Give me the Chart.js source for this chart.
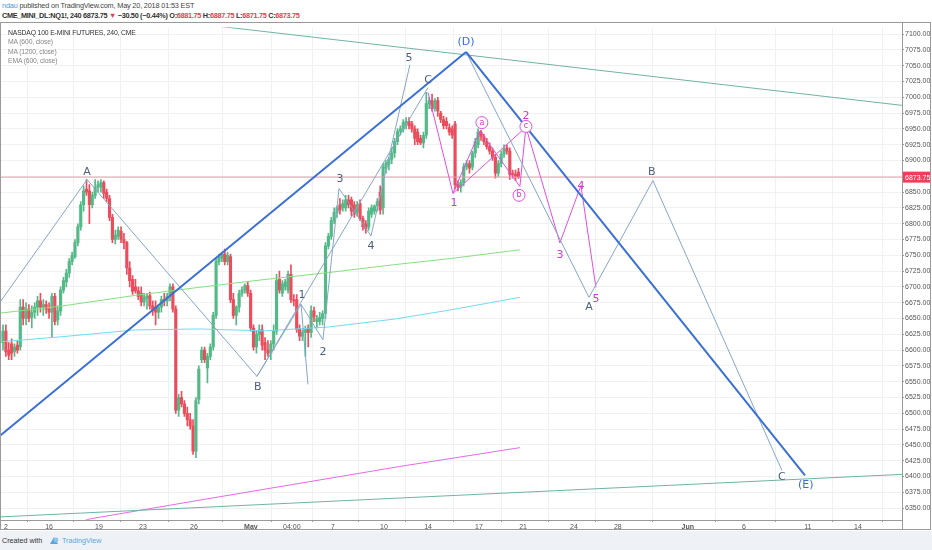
<!DOCTYPE html>
<html>
<head>
<meta charset="utf-8">
<script src="https://cdn.jsdelivr.net/npm/chart.js@4.4.1/dist/chart.umd.min.js"></script>
<style>
  body { margin: 0; width: 932px; height: 550px; background: #fff; position: relative; overflow: hidden;
         font-family: "Liberation Sans", Arial, sans-serif; }
  #h1 { position: absolute; left: 2px; top: 1px; font-size: 7.3px; letter-spacing: -0.17px; color: #444; white-space: nowrap; }
  #h1 .user { color: #4a9ad8; }
  #h2 { position: absolute; left: 2px; top: 11px; font-size: 7.3px; letter-spacing: -0.3px; color: #333; font-weight: bold; white-space: nowrap; }
  #h2 .r { color: #e2424f; }
  #wrap { position: absolute; left: 0; top: 22px; width: 932px; height: 508px; }
  #legend { position: absolute; left: 8px; top: 28px; font-size: 6.8px; letter-spacing: -0.15px; line-height: 9.3px; color: #888; white-space: nowrap; }
  #legend .t { color: #333; }
  #foot { position: absolute; left: 0; top: 531px; width: 932px; height: 19px; background: #eef2f6; }
  #foot .c { position: absolute; left: 2px; top: 5px; font-size: 7.2px; color: #333; }
  #foot .tv { position: absolute; left: 62px; top: 5px; font-size: 7.2px; color: #5aa6dc; }
  #foot svg { position: absolute; left: 48px; top: 4px; }
</style>
</head>
<body>
<div id="h1"><span class="user">ndau</span> published on TradingView.com, May 20, 2018 01:53 EST</div>
<div id="h2">CME_MINI_DL:NQ1!, 240 6873.75 <span class="r">▼</span> −30.50 (−0.44%) O:<span class="r">6881.75</span> H:<span class="r">6887.75</span> L:<span class="r">6871.75</span> C:<span class="r">6873.75</span></div>
<div id="wrap"><canvas id="chart"></canvas></div>
<div id="legend">
  <div class="t">NASDAQ 100 E-MINI FUTURES, 240, CME</div>
  <div>MA (600, close)</div>
  <div>MA (1200, close)</div>
  <div>EMA (600, close)</div>
</div>
<div id="foot">
  <span class="c">Created with</span>
  <svg width="12" height="10" viewBox="0 0 12 10"><path d="M2 9 L6 2 L10 9 Z" fill="#5aa6dc"/><circle cx="8" cy="5" r="2.4" fill="#8cc4ea"/></svg>
  <span class="tv">TradingView</span>
</div>

<script>
// 240 min candles, one entry per bar (bar 0 = left edge)
const candleOpen = [
  6612, 6630, 6600, 6610, 6598, 6608, 6605, 6668, 6650, 6665,
  6652, 6660, 6668, 6678, 6668, 6672, 6665, 6660, 6685, 6648,
  6662, 6695, 6708, 6722, 6740, 6748, 6770, 6795, 6830, 6855,
  6852, 6830, 6845, 6858, 6858, 6865, 6850, 6840, 6810, 6775,
  6780, 6788, 6775, 6770, 6730, 6712, 6700, 6694, 6690, 6676,
  6682, 6686, 6670, 6668, 6660, 6668, 6680, 6678, 6685, 6700,
  6665, 6505, 6525, 6515, 6500, 6490, 6480, 6440, 6522, 6585,
  6600, 6572, 6590, 6605, 6655, 6740, 6745, 6752, 6740, 6748,
  6680, 6655, 6668, 6690, 6695, 6702, 6690, 6635, 6605, 6625,
  6632, 6612, 6600, 6595, 6610, 6630, 6712, 6690, 6700, 6695,
  6720, 6680, 6680, 6633, 6622, 6628, 6635, 6628, 6662, 6645,
  6645, 6650, 6658, 6765, 6780, 6805, 6818, 6830, 6825, 6825,
  6838, 6838, 6830, 6818, 6832, 6808, 6800, 6795, 6815, 6820,
  6828, 6850, 6825, 6888, 6894, 6902, 6912, 6930, 6946, 6950,
  6958, 6962, 6958, 6950, 6945, 6935, 6928, 6940, 6990, 6995,
  6982, 6995, 6975, 6965, 6962, 6952, 6950, 6958, 6862, 6858,
  6865, 6890, 6895, 6890, 6912, 6925, 6945, 6938, 6930, 6922,
  6915, 6905, 6880, 6895, 6910, 6920, 6915, 6880, 6878, 6881.75
];
const candleHigh = [
  6640, 6640, 6612, 6618, 6610, 6615, 6680, 6680, 6675, 6672,
  6670, 6675, 6685, 6690, 6680, 6678, 6675, 6690, 6690, 6670,
  6700, 6715, 6728, 6745, 6755, 6775, 6800, 6835, 6860, 6870,
  6862, 6850, 6870, 6868, 6870, 6868, 6855, 6845, 6815, 6790,
  6795, 6795, 6785, 6772, 6740, 6718, 6712, 6700, 6700, 6690,
  6690, 6692, 6678, 6678, 6672, 6685, 6690, 6690, 6705, 6705,
  6670, 6530, 6535, 6520, 6510, 6500, 6490, 6525, 6575, 6605,
  6605, 6595, 6610, 6660, 6745, 6752, 6755, 6760, 6755, 6752,
  6690, 6670, 6695, 6700, 6705, 6708, 6695, 6640, 6630, 6640,
  6640, 6620, 6615, 6615, 6640, 6720, 6725, 6710, 6712, 6725,
  6735, 6688, 6688, 6640, 6632, 6638, 6640, 6670, 6668, 6655,
  6660, 6662, 6770, 6785, 6810, 6825, 6828, 6840, 6838, 6845,
  6845, 6842, 6835, 6835, 6838, 6812, 6805, 6825, 6830, 6830,
  6840, 6860, 6895, 6900, 6905, 6920, 6935, 6950, 6955, 6965,
  6968, 6968, 6962, 6955, 6950, 6940, 6945, 7008, 7000, 7005,
  6998, 7000, 6978, 6970, 6968, 6958, 6955, 6962, 6868, 6870,
  6895, 6900, 6900, 6915, 6935, 6950, 6948, 6942, 6935, 6928,
  6920, 6910, 6900, 6915, 6925, 6925, 6920, 6885, 6885, 6887.75
];
const candleLow = [
  6600, 6590, 6585, 6585, 6590, 6595, 6600, 6640, 6640, 6645,
  6635, 6650, 6655, 6660, 6655, 6658, 6650, 6620, 6640, 6640,
  6655, 6690, 6700, 6715, 6735, 6745, 6765, 6790, 6820, 6845,
  6800, 6825, 6840, 6850, 6850, 6840, 6835, 6805, 6770, 6768,
  6775, 6770, 6760, 6720, 6700, 6688, 6690, 6680, 6670, 6670,
  6665, 6665, 6655, 6640, 6650, 6660, 6670, 6670, 6678, 6660,
  6500, 6495, 6510, 6495, 6480, 6475, 6435, 6430, 6515, 6580,
  6580, 6548, 6585, 6600, 6650, 6735, 6740, 6735, 6735, 6675,
  6650, 6640, 6660, 6685, 6690, 6685, 6630, 6600, 6595, 6615,
  6600, 6585, 6590, 6585, 6600, 6625, 6690, 6685, 6695, 6690,
  6675, 6670, 6628, 6615, 6615, 6590, 6605, 6620, 6645, 6635,
  6640, 6640, 6650, 6760, 6775, 6800, 6810, 6815, 6820, 6820,
  6825, 6812, 6810, 6812, 6805, 6790, 6785, 6790, 6810, 6815,
  6820, 6815, 6815, 6880, 6885, 6895, 6905, 6925, 6940, 6945,
  6950, 6950, 6945, 6925, 6925, 6925, 6920, 6935, 6982, 6978,
  6978, 6970, 6960, 6950, 6950, 6940, 6935, 6855, 6852, 6850,
  6860, 6885, 6880, 6885, 6905, 6920, 6932, 6925, 6918, 6910,
  6900, 6872, 6875, 6890, 6905, 6910, 6870, 6872, 6868, 6871.75
];
const candleClose = [
  6630, 6597, 6592, 6595, 6605, 6600, 6668, 6650, 6665, 6650,
  6660, 6668, 6678, 6668, 6672, 6665, 6660, 6685, 6645, 6662,
  6695, 6710, 6722, 6740, 6750, 6770, 6795, 6830, 6852, 6850,
  6830, 6845, 6858, 6862, 6865, 6848, 6840, 6810, 6775, 6782,
  6790, 6775, 6770, 6730, 6710, 6693, 6694, 6685, 6676, 6684,
  6686, 6670, 6662, 6660, 6668, 6680, 6678, 6685, 6700, 6665,
  6505, 6525, 6515, 6500, 6490, 6480, 6440, 6520, 6570, 6600,
  6585, 6590, 6605, 6655, 6740, 6748, 6752, 6740, 6750, 6680,
  6655, 6668, 6690, 6695, 6702, 6690, 6635, 6605, 6625, 6632,
  6608, 6600, 6595, 6610, 6630, 6710, 6695, 6705, 6708, 6720,
  6680, 6678, 6633, 6622, 6628, 6632, 6628, 6662, 6652, 6650,
  6652, 6658, 6765, 6780, 6805, 6818, 6825, 6822, 6832, 6838,
  6830, 6820, 6815, 6830, 6808, 6795, 6792, 6820, 6825, 6828,
  6835, 6822, 6890, 6896, 6902, 6912, 6930, 6946, 6950, 6960,
  6962, 6955, 6950, 6935, 6930, 6928, 6940, 6990, 6995, 6982,
  6995, 6978, 6965, 6955, 6955, 6945, 6940, 6862, 6858, 6865,
  6890, 6895, 6888, 6912, 6930, 6945, 6938, 6930, 6922, 6915,
  6905, 6880, 6895, 6910, 6918, 6915, 6878, 6878, 6875, 6873.75
];
const lastPrice = 6873.75;

// moving averages, sampled along the bars
const maBars = [-1, 20, 46, 68, 91, 113, 136, 155, 179.5];
const ma600 = [6658.6, 6669.5, 6686.7, 6699.3, 6711.8, 6722.7, 6735.3, 6744.7, 6758.7];
const ma1200 = [6613.2, 6621.0, 6632.0, 6633.5, 6630.5, 6636.6, 6649.2, 6663.3, 6683.6];
const emaBars = [20, 30.2, 68.4, 103.1, 137.8, 179.5];
const ema600 = [6318, 6333, 6362.7, 6389.3, 6415.9, 6445.7];

// axis ticks
const xTickBars = [1, 16, 33.3, 48.6, 66.3, 86.1, 100.3, 114.6, 132.3, 147.6, 165.3, 180.6, 198.3, 213.5, 237.8, 257.3, 279.5, 296.9];
const xTickLabels = ['2', '16', '19', '23', '26', 'May', '04:00', '7', '10', '14', '17', '21', '24', '28', 'Jun', '6', '11', '14'];
const yTicks = [];
for (let v = 6350; v <= 7100; v += 25) yTicks.push(v);

// drawings: trend lines and wave counts
const channelTopBars = [-1.04, 160.8];
const channelTopPrices = [6464.5, 7071.8];
const channelDownBars = [160.8, 278.5];
const channelDownPrices = [7071.8, 6401.8];
const upperTealBars = [-1.04, 312.2];
const upperTealPrices = [7152.6, 6987.3];
const lowerTealBars = [-1.04, 312.2];
const lowerTealPrices = [6336.1, 6403.4];
const waveAbcBars = [-1.04, 29.2, 88.2, 147.6];
const waveAbcPrices = [6675.8, 6869.9, 6558.4, 7015.5];
const waveImpulseBars = [88.2, 103.5, 111.1, 116.7, 127.8, 141.3];
const waveImpulsePrices = [6558.4, 6672.6, 6616.3, 6855.8, 6780.7, 7051.5];
const waveSpikeBars = [103.5, 105.9];
const waveSpikePrices = [6672.6, 6545.8];
const waveProjBars = [160.8, 203.5, 225.7, 270.5];
const waveProjPrices = [7071.8, 6683.6, 6868.3, 6409.7];
const subWaveBars = [147.6, 156.25, 165.6, 179.5, 181.6, 193.4, 200.7, 205.9];
const subWavePrices = [7007.7, 6848, 6946.6, 6859, 6952.9, 6769.7, 6860.5, 6699.3];
const subWaveLinkBars = [156.25, 181.6];
const subWaveLinkPrices = [6848, 6952.9];
const priceLineBars = [-1.04, 312.2];

const labelText = ['A', 'B', 'C', '1', '2', '3', '4', '5', '(D)', 'A', 'B', 'C', '(E)', '1', '2', '3', '4', '5'];
const labelBar = [29.2, 88.5, 147.6, 103.8, 111.1, 117, 127.8, 141, 160.8, 203.5, 225.3, 270.5, 278.8, 156.6, 181.6, 193.4, 200.7, 205.9];
const labelPrice = [6882, 6541, 7028, 6687, 6597, 6870, 6765, 7062, 7088, 6668, 6882, 6399, 6386, 6832, 6970, 6751, 6859, 6680];
const labelKind = ['w', 'w', 'w', 'w', 'w', 'w', 'w', 'w', 'b', 'w', 'w', 'w', 'b', 'm', 'm', 'm', 'm', 'm'];
const circleText = ['a', 'b', 'c'];
const circleBar = [166.3, 179.2, 181.6];
const circlePrice = [6960, 6845, 6954];

const upColor = '#53b987';
const downColor = '#eb4d5c';
const waveColor = '#86a6c8';
const magenta = '#e04fe0';
const royal = '#3a6fd6';
const teal = '#6fb3a4';

function pts(bars, prices) {
  return bars.map((b, i) => ({ x: b, y: prices[i] }));
}
function line(data, color, width, order) {
  return {
    type: 'line', data: data, borderColor: color, borderWidth: width,
    pointRadius: 0, tension: 0, fill: false, order: order
  };
}

const idx = candleOpen.map((_, i) => i);
const candleColors = idx.map(i => candleClose[i] >= candleOpen[i] ? upColor : downColor);

const labelPlugin = {
  id: 'labels',
  afterDatasetsDraw(chart) {
    const { ctx, scales: { x, y }, chartArea } = chart;
    ctx.save();
    ctx.beginPath();
    ctx.rect(chartArea.left, chartArea.top, chartArea.right - chartArea.left, chartArea.bottom - chartArea.top);
    ctx.clip();
    ctx.textAlign = 'center';
    ctx.textBaseline = 'middle';
    labelText.forEach((t, i) => {
      const k = labelKind[i];
      ctx.fillStyle = k === 'b' ? royal : k === 'm' ? '#c93cc9' : '#4c5f7c';
      ctx.font = '11px "DejaVu Sans", sans-serif';
      ctx.fillText(t, x.getPixelForValue(labelBar[i]), y.getPixelForValue(labelPrice[i]));
    });
    circleText.forEach((t, i) => {
      const px = x.getPixelForValue(circleBar[i]);
      const py = y.getPixelForValue(circlePrice[i]);
      ctx.fillStyle = '#fff';
      ctx.strokeStyle = magenta;
      ctx.lineWidth = 1;
      ctx.beginPath();
      ctx.arc(px, py, 6, 0, Math.PI * 2);
      ctx.fill();
      ctx.stroke();
      ctx.fillStyle = '#c93cc9';
      ctx.font = '8px "DejaVu Sans", sans-serif';
      ctx.fillText(t, px, py);
    });
    ctx.restore();
  },
  afterDraw(chart) {
    const { ctx, scales: { y }, chartArea } = chart;
    ctx.save();
    // frame
    ctx.strokeStyle = '#9a9a9a';
    ctx.lineWidth = 1;
    ctx.strokeRect(0.5, 0.5, chartArea.right, chartArea.bottom);
    ctx.strokeRect(chartArea.right + 0.5, 0.5, chart.width - chartArea.right - 2, chart.height - 1);
    ctx.strokeRect(0.5, chartArea.bottom + 0.5, chartArea.right, chart.height - chartArea.bottom - 1);
    // last price tag
    const py = y.getPixelForValue(lastPrice);
    ctx.fillStyle = '#ef3e5c';
    ctx.fillRect(chartArea.right + 1, py - 5.5, 27, 11);
    ctx.fillStyle = '#fff';
    ctx.font = '7px "Liberation Sans", sans-serif';
    ctx.textAlign = 'left';
    ctx.textBaseline = 'middle';
    ctx.fillText(lastPrice.toFixed(2), chartArea.right + 3, py + 0.5);
    ctx.restore();
  }
};

new Chart(document.getElementById('chart'), {
  type: 'bar',
  data: {
    datasets: [
      line(pts(channelTopBars, channelTopPrices), royal, 2, 1),
      line(pts(channelDownBars, channelDownPrices), royal, 2, 1),
      line(pts(upperTealBars, upperTealPrices), teal, 1, 2),
      line(pts(lowerTealBars, lowerTealPrices), teal, 1, 2),
      line(pts(waveAbcBars, waveAbcPrices), waveColor, 1, 2),
      line(pts(waveImpulseBars, waveImpulsePrices), waveColor, 1, 2),
      line(pts(waveSpikeBars, waveSpikePrices), waveColor, 1, 2),
      line(pts(waveProjBars, waveProjPrices), waveColor, 1, 2),
      line(pts(subWaveBars, subWavePrices), magenta, 1, 2),
      line(pts(subWaveLinkBars, subWaveLinkPrices), magenta, 1, 2),
      line(pts(priceLineBars, [lastPrice, lastPrice]), '#f29aa6', 1, 3),
      line(pts(maBars, ma600), '#86e07e', 1, 4),
      line(pts(maBars, ma1200), '#6fdcf0', 1, 4),
      line(pts(emaBars, ema600), '#e66ae6', 1, 4),
      {
        type: 'bar', order: 6, grouped: false, barThickness: 2.5,
        data: idx.map(i => ({ x: i, y: [candleOpen[i], candleClose[i]] })),
        backgroundColor: candleColors, borderWidth: 0
      },
      {
        type: 'bar', order: 7, grouped: false, barThickness: 1,
        data: idx.map(i => ({ x: i, y: [candleLow[i], candleHigh[i]] })),
        backgroundColor: candleColors, borderWidth: 0
      }
    ]
  },
  options: {
    responsive: true,
    maintainAspectRatio: false,
    animation: false,
    events: [],
    layout: { autoPadding: false, padding: { left: 0, right: 2, top: 0, bottom: 0 } },
    plugins: { legend: { display: false }, tooltip: { enabled: false } },
    scales: {
      x: {
        type: 'linear', min: -1.04, max: 312.2, offset: false,
        afterBuildTicks: s => { s.ticks = xTickBars.map(v => ({ value: v })); },
        afterFit: s => { s.height = 10; },
        grid: { color: '#eff1f3', tickLength: 2, tickColor: '#999' },
        border: { color: '#9a9a9a' },
        ticks: {
          autoSkip: false, maxRotation: 0, padding: 1, color: '#555',
          font: c => ({ size: 7, family: '"Liberation Sans", sans-serif',
                        weight: (c.tick && (c.tick.label === 'May' || c.tick.label === 'Jun')) ? 'bold' : 'normal' }),
          callback: (v, i) => xTickLabels[i]
        }
      },
      y: {
        position: 'right', min: 6331.2, max: 7111.0,
        afterBuildTicks: s => { s.ticks = yTicks.map(v => ({ value: v })); },
        afterFit: s => { s.width = 28; },
        grid: { color: '#eff1f3', tickLength: 2, tickColor: '#999' },
        border: { color: '#9a9a9a' },
        ticks: {
          padding: 1, color: '#555',
          font: { size: 7, family: '"Liberation Sans", sans-serif' },
          callback: v => v.toFixed(2)
        }
      }
    }
  },
  plugins: [labelPlugin]
});
</script>
</body>
</html>
